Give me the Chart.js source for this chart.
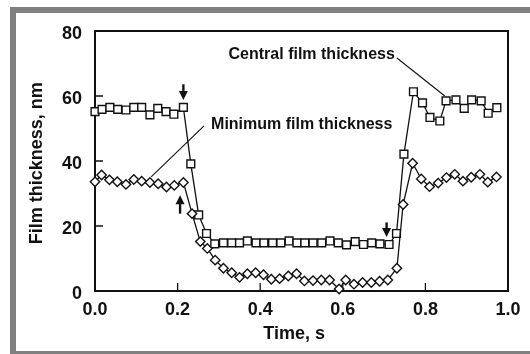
<!DOCTYPE html>
<html>
<head>
<meta charset="utf-8">
<script src="https://cdn.jsdelivr.net/npm/chart.js@4.4.1/dist/chart.umd.min.js"></script>
<style>
  html { overflow: hidden; }
  html, body { margin: 0; padding: 0; background: #fff; }
  body { width: 530px; height: 354px; overflow: hidden; }
  #page { position: absolute; left: 0; top: 0; width: 530px; height: 354px; overflow: hidden; background: #fff; }
  #frame { position: absolute; left: 10px; top: 7px; width: 520px; height: 350px;
           border-left: 6px solid #808080; border-top: 6px solid #808080;
           border-bottom: 6px solid #808080; box-sizing: border-box; }
  #wrap { position: absolute; left: 0; top: 0; width: 530px; height: 354px; }
</style>
</head>
<body>
<div id="page">
  <div id="frame"></div>
  <div id="wrap"><canvas id="c" width="530" height="354"></canvas></div>
</div>
<script>
// Central film thickness (squares), nm vs time, s
const centralTime = [0.000, 0.017, 0.036, 0.055, 0.075, 0.094, 0.113, 0.133, 0.152, 0.172,
  0.191, 0.214, 0.232, 0.251, 0.270, 0.290, 0.311, 0.331, 0.350, 0.369,
  0.390, 0.409, 0.430, 0.450, 0.470, 0.489, 0.508, 0.528, 0.549, 0.569,
  0.589, 0.609, 0.630, 0.650, 0.670, 0.690, 0.712, 0.730, 0.748, 0.771,
  0.793, 0.811, 0.835, 0.850, 0.874, 0.894, 0.912, 0.935, 0.952, 0.973];
const centralThickness = [55.2, 55.9, 56.5, 55.9, 55.7, 56.5, 56.5, 54.2, 56.2, 55.2,
  54.4, 56.5, 39.1, 23.4, 17.7, 14.5, 14.8, 14.8, 14.8, 15.4,
  14.8, 14.8, 14.8, 14.8, 15.4, 14.8, 14.8, 14.8, 14.8, 15.4,
  14.8, 14.2, 15.2, 14.3, 14.8, 14.5, 14.3, 17.7, 42.1, 61.3,
  57.9, 53.4, 52.3, 58.5, 58.8, 56.2, 58.8, 58.5, 54.7, 56.4];

// Minimum film thickness (diamonds)
const minimumTime = [0.000, 0.016, 0.035, 0.054, 0.075, 0.094, 0.113, 0.133, 0.153, 0.173,
  0.192, 0.214, 0.235, 0.255, 0.272, 0.291, 0.311, 0.331, 0.350, 0.369,
  0.389, 0.408, 0.427, 0.447, 0.468, 0.488, 0.507, 0.528, 0.548, 0.568,
  0.591, 0.607, 0.627, 0.648, 0.669, 0.689, 0.709, 0.731, 0.746, 0.769,
  0.790, 0.810, 0.831, 0.851, 0.871, 0.891, 0.911, 0.932, 0.951, 0.972];
const minimumThickness = [33.6, 35.7, 34.2, 33.6, 32.8, 34.3, 33.8, 33.4, 33.0, 32.0,
  32.5, 33.4, 23.8, 15.2, 13.1, 9.5, 7.0, 5.6, 4.2, 5.3,
  5.6, 5.0, 3.6, 3.8, 4.6, 5.3, 3.1, 3.2, 3.4, 3.4,
  0.6, 3.4, 2.1, 2.6, 2.6, 3.0, 3.4, 7.0, 26.6, 39.3,
  34.5, 32.1, 33.2, 34.9, 35.9, 33.8, 35.0, 35.9, 33.5, 35.1];

const xTicks = [0.0, 0.2, 0.4, 0.6, 0.8, 1.0];
const yTicks = [0, 20, 40, 60, 80];

// Event arrows: [time, tail value, tip value]
const arrows = [
  [0.214, 63.6, 58.8],
  [0.206, 23.8, 29.5],
  [0.706, 21.1, 16.6]
];

const INK = '#111';
const FONT = '"Liberation Sans", Arial, Helvetica, sans-serif';

function pairs(xs, ys) { return xs.map((x, i) => ({ x: x, y: ys[i] })); }

const frameAndNotes = {
  id: 'frameAndNotes',
  beforeDatasetsDraw(chart) {
    const { ctx, chartArea: a, scales } = chart;
    ctx.save();
    ctx.strokeStyle = INK;
    ctx.lineWidth = 2;
    ctx.strokeRect(a.left, a.top, a.right - a.left, a.bottom - a.top);
    ctx.lineWidth = 1.3;
    ctx.beginPath();
    xTicks.slice(1, -1).forEach(v => {
      const px = scales.x.getPixelForValue(v);
      ctx.moveTo(px, a.bottom); ctx.lineTo(px, a.bottom - 8);
    });
    yTicks.slice(1, -1).forEach(v => {
      const py = scales.y.getPixelForValue(v);
      ctx.moveTo(a.left, py); ctx.lineTo(a.left + 8, py);
    });
    ctx.stroke();
    ctx.restore();
  },
  afterDraw(chart) {
    const { ctx, chartArea: a, scales } = chart;
    const X = v => scales.x.getPixelForValue(v);
    const Y = v => scales.y.getPixelForValue(v);
    ctx.save();
    ctx.fillStyle = INK;
    ctx.strokeStyle = INK;

    // axis titles
    ctx.font = 'bold 18px ' + FONT;
    ctx.textAlign = 'center';
    ctx.textBaseline = 'middle';
    ctx.fillText('Time, s', X(0.482), a.bottom + 43);
    ctx.save();
    ctx.translate(37, Y(39.3));
    ctx.rotate(-Math.PI / 2);
    ctx.fillText('Film thickness, nm', 0, 0);
    ctx.restore();

    // series labels with leader lines
    ctx.font = 'bold 16px ' + FONT;
    ctx.textAlign = 'right';
    ctx.fillText('Central film thickness', X(0.726), Y(72.6));
    ctx.textAlign = 'left';
    ctx.fillText('Minimum film thickness', X(0.281), Y(51.2));
    ctx.lineWidth = 1.1;
    ctx.beginPath();
    ctx.moveTo(X(0.731), Y(71.7)); ctx.lineTo(X(0.847), Y(60.0));
    ctx.moveTo(X(0.264), Y(50.8)); ctx.lineTo(X(0.136), Y(35.1));
    ctx.stroke();

    // arrows
    arrows.forEach(([t, from, to]) => {
      const x = X(t), y0 = Y(from), y1 = Y(to);
      const dir = Math.sign(y1 - y0);
      const head = 9, half = 4.5;
      ctx.lineWidth = 2.4;
      ctx.beginPath();
      ctx.moveTo(x, y0); ctx.lineTo(x, y1 - dir * head);
      ctx.stroke();
      ctx.beginPath();
      ctx.moveTo(x, y1);
      ctx.lineTo(x - half, y1 - dir * head);
      ctx.lineTo(x + half, y1 - dir * head);
      ctx.closePath();
      ctx.fill();
    });
    ctx.restore();
  }
};

new Chart(document.getElementById('c'), {
  type: 'line',
  data: {
    datasets: [
      {
        label: 'Minimum film thickness',
        data: pairs(minimumTime, minimumThickness),
        borderColor: INK, borderWidth: 1.3,
        pointStyle: 'rectRot', pointRadius: 4.7,
        pointBackgroundColor: '#fff', pointBorderColor: INK, pointBorderWidth: 1.4,
        tension: 0, clip: false
      },
      {
        label: 'Central film thickness',
        data: pairs(centralTime, centralThickness),
        borderColor: INK, borderWidth: 1.3,
        pointStyle: 'rect', pointRadius: 5.5,
        pointBackgroundColor: '#fff', pointBorderColor: INK, pointBorderWidth: 1.4,
        tension: 0, clip: false
      }
    ]
  },
  options: {
    responsive: false,
    animation: false,
    events: [],
    layout: { padding: { top: 31, right: 22, bottom: 0, left: 0 } },
    plugins: { legend: { display: false }, tooltip: { enabled: false } },
    scales: {
      x: {
        type: 'linear', min: 0, max: 1,
        afterFit: s => { s.height = 63; },
        afterBuildTicks: s => { s.ticks = xTicks.map(v => ({ value: v })); },
        grid: { display: false, drawTicks: false },
        border: { display: false },
        ticks: {
          color: INK, padding: 8,
          font: { family: FONT, size: 18, weight: 'bold' },
          callback: v => Number(v).toFixed(1)
        }
      },
      y: {
        type: 'linear', min: 0, max: 80,
        afterFit: s => { s.width = 95; },
        afterBuildTicks: s => { s.ticks = yTicks.map(v => ({ value: v })); },
        grid: { display: false, drawTicks: false },
        border: { display: false },
        ticks: {
          color: INK, padding: 13, labelOffset: 3,
          font: { family: FONT, size: 18, weight: 'bold' },
          callback: v => String(v)
        }
      }
    }
  },
  plugins: [frameAndNotes]
});
</script>
</body>
</html>
